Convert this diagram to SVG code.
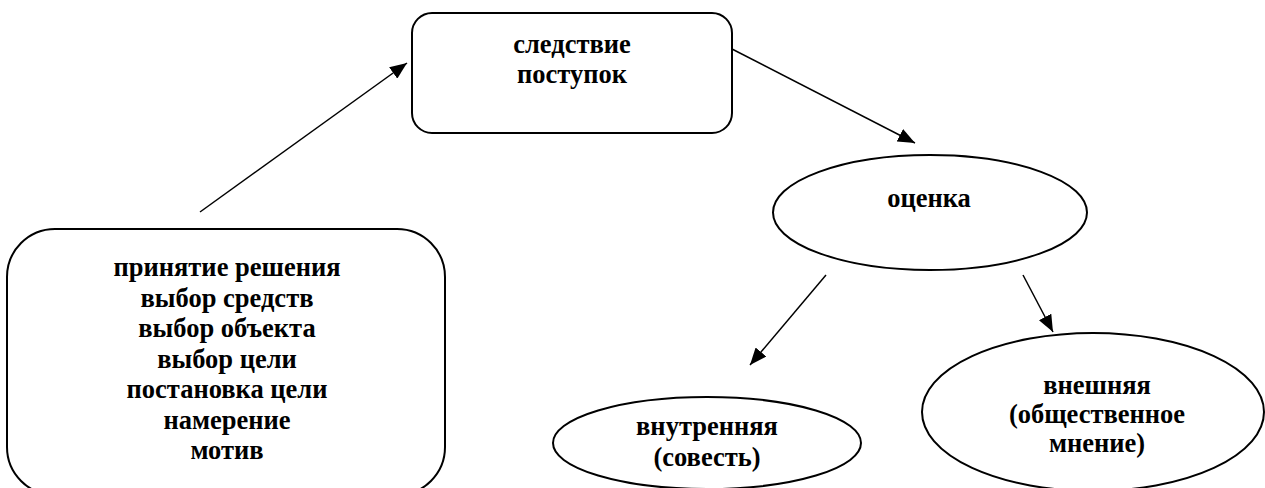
<svg xmlns="http://www.w3.org/2000/svg" width="1265" height="488" viewBox="0 0 1265 488">
<style>
.n{fill:#fff;stroke:#000;stroke-width:2}
.t{font-family:"Liberation Serif","Times New Roman",serif;font-weight:bold;font-size:26.5px;text-anchor:middle;fill:#000}
.c{stroke:#000;stroke-width:1.5;fill:none;marker-end:url(#a)}
</style>
<defs>
<marker id="a" markerWidth="18" markerHeight="14" refX="17" refY="7" orient="auto" markerUnits="userSpaceOnUse">
<path d="M0,0 L17,7 L0,14 Z" fill="#000"/>
</marker>
</defs>
<rect width="1265" height="488" fill="#fff"/>
<g id="node-consequence">
<rect class="n" x="412" y="13" width="320" height="120" rx="20"/>
<text class="t" x="572" y="53">следствие</text>
<text class="t" x="572" y="83">поступок</text>
</g>
<g id="node-steps">
<rect class="n" x="7" y="229" width="438" height="266" rx="48"/>
<text class="t" x="227" y="276">принятие решения</text>
<text class="t" x="227" y="306.5">выбор средств</text>
<text class="t" x="227" y="337">выбор объекта</text>
<text class="t" x="227" y="367.5">выбор цели</text>
<text class="t" x="227" y="398">постановка цели</text>
<text class="t" x="227" y="428.5">намерение</text>
<text class="t" x="227" y="459">мотив</text>
</g>
<g id="node-assessment">
<ellipse class="n" cx="930" cy="212.5" rx="157" ry="57.5"/>
<text class="t" x="929" y="207">оценка</text>
</g>
<g id="node-internal">
<ellipse class="n" cx="707" cy="443" rx="154" ry="46"/>
<text class="t" x="707" y="435">внутренняя</text>
<text class="t" x="707" y="466">(совесть)</text>
</g>
<g id="node-external">
<ellipse class="n" cx="1093" cy="412" rx="171" ry="79"/>
<text class="t" x="1097" y="394">внешняя</text>
<text class="t" x="1097" y="423">(общественное</text>
<text class="t" x="1097" y="452">мнение)</text>
</g>
<g id="connectors">
<line class="c" x1="200" y1="212" x2="407" y2="63"/>
<line class="c" x1="732" y1="49" x2="915" y2="143"/>
<line class="c" x1="826" y1="275" x2="750" y2="365"/>
<line class="c" x1="1023" y1="275" x2="1053" y2="332"/>
</g>
</svg>
